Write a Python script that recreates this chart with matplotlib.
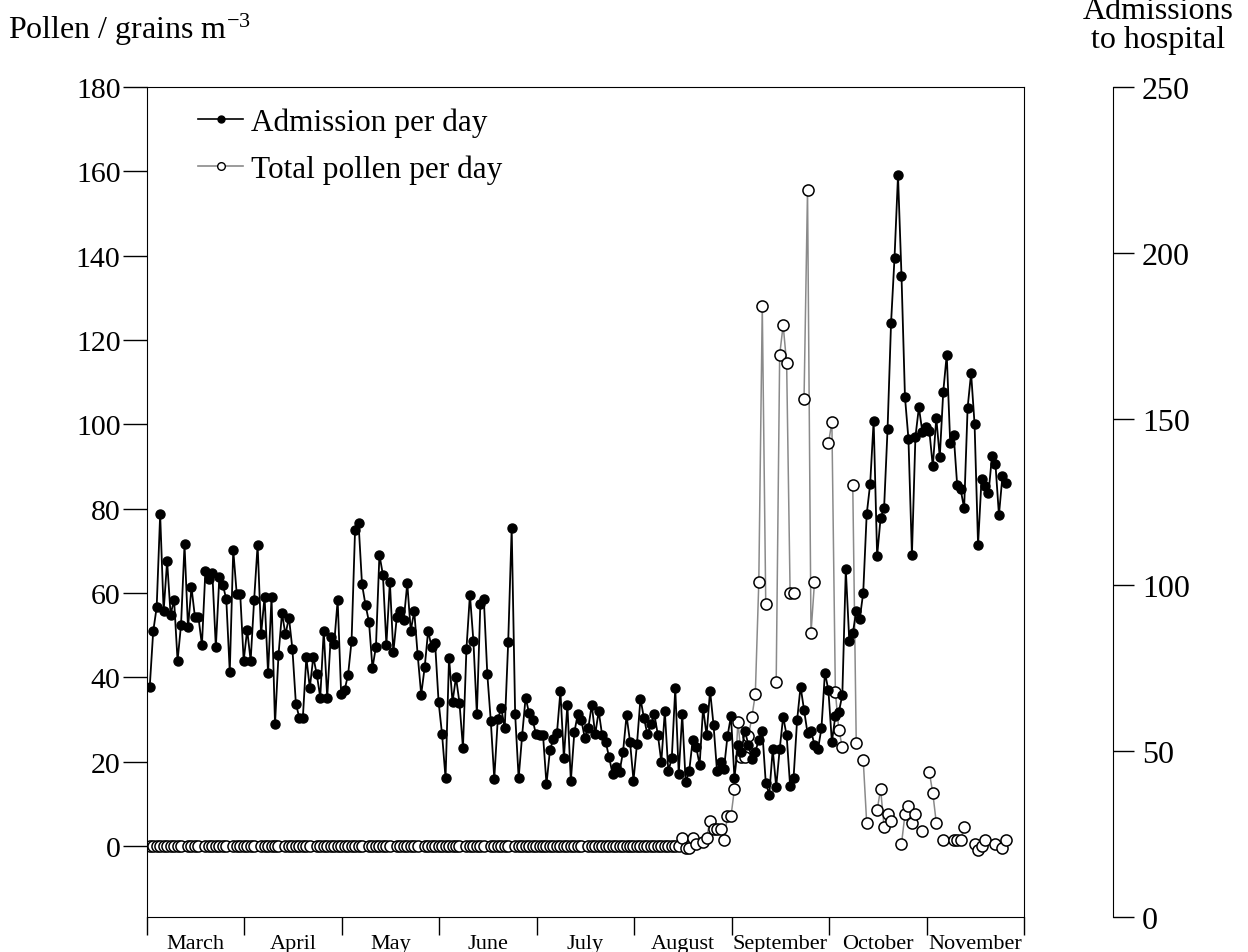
import numpy as np
import matplotlib.pyplot as plt
from matplotlib.lines import Line2D

plt.rcParams['font.family'] = 'Liberation Serif'
plt.rcParams['mathtext.fontset'] = 'custom'
plt.rcParams['mathtext.rm'] = 'Liberation Serif'
plt.rcParams['mathtext.it'] = 'Liberation Serif:italic'

months = ['March', 'April', 'May', 'June', 'July', 'August',
          'September', 'October', 'November']

# admissions to hospital per day
admit_mar = [69.2, 86.0, 93.3, 121.3, 92.1, 107.2, 91.1, 95.5, 77.2, 88.0, 112.2, 87.2, 99.3, 90.3, 90.3,
             81.9, 104.3, 101.8, 103.5, 81.2, 102.3, 100.1, 95.7, 73.8, 110.6, 97.3, 97.3, 77.2, 86.5]
admit_apr = [77.2, 95.5, 112.1, 85.1, 96.5, 73.4, 96.3, 58.0, 78.9, 91.5, 85.1, 90.2, 80.7, 64.2, 60.0,
             60.0, 78.2, 69.0, 78.3, 73.1, 66.1, 86.2, 66.1, 84.2, 82.3, 95.5]
admit_may = [67.2, 68.4, 73.0, 83.2, 116.6, 118.7, 100.2, 94.0, 88.9, 75.0, 81.4, 109.1, 103.1, 82.0, 101.0,
             79.7, 90.4, 92.3, 89.5, 100.5, 86.2, 92.1, 78.8, 67.0, 75.2, 86.2, 81.2, 82.4, 64.8]
admit_jun = [55.0, 41.8, 78.1, 64.8, 72.2, 64.5, 50.9, 80.7, 97.1, 83.2, 61.0, 94.3, 95.7, 73.1, 59.0,
             41.6, 59.5, 62.9, 56.9, 82.8, 117.2, 61.0, 41.8, 54.6, 66.1, 61.4, 59.4, 55.0]
admit_jul = [54.9, 54.9, 40.0, 50.3, 53.7, 55.3, 68.0, 47.8, 63.9, 40.9, 55.6, 61.2, 59.3, 54.0, 56.8,
             63.9, 55.0, 62.0, 54.7, 52.8, 48.1, 43.0, 45.1, 43.8, 49.8, 60.7, 52.8, 41.1]
admit_aug = [52.1, 65.8, 59.9, 55.0, 58.0, 61.0, 54.9, 46.7, 62.0, 43.9, 47.8, 68.9, 43.0, 61.0, 40.6,
             43.9, 53.2, 51.3, 45.8, 63.0, 54.7, 68.2, 57.8, 43.9, 46.8, 44.7, 54.4, 60.5]
admit_sep = [42.0, 51.9, 49.8, 56.1, 51.9, 47.7, 49.8, 53.3, 56.1, 40.5, 36.8, 50.5, 39.2, 50.5, 60.3,
             54.7, 39.5, 42.0, 59.2, 69.4, 62.4, 55.4, 56.1, 51.9, 50.5, 56.8, 73.6]
admit_oct = [68.3, 52.7, 60.6, 61.7, 66.9, 104.7, 83.2, 85.4, 92.1, 89.8, 97.6, 121.3, 130.4, 149.5, 108.7,
             120.2, 123.2, 147.0, 178.9, 198.6, 223.4, 193.2, 156.6, 144.0, 109.0, 144.6, 153.5, 146.1]
admit_nov = [147.5, 146.5, 135.7, 150.3, 138.5, 158.2, 169.4, 142.7, 145.2, 130.1, 128.8, 123.1, 153.4, 163.8,
             148.4, 112.1, 131.9, 129.9, 127.6, 138.8, 136.4, 121.1, 132.7, 130.7]

# total pollen per day (grains m-3), None where there is no count
N = None
pollen_mar = [0, 0, 0, 0, 0, 0, 0, 0, 0, 0, N, 0, 0, 0, 0, N, 0, 0, 0, 0, 0, 0, 0, N, 0, 0, 0, 0, 0]
pollen_apr = [0, 0, N, 0, 0, 0, 0, 0, 0, N, 0, 0, 0, 0, 0, 0, 0, 0, N, 0, 0, 0, 0, 0, 0, 0]
pollen_may = [0, 0, 0, 0, 0, 0, 0, N, 0, 0, 0, 0, 0, 0, 0, N, 0, 0, 0, 0, 0, 0, 0, N, 0, 0, 0, 0, 0]
pollen_jun = [0, 0, 0, 0, 0, 0, N, 0, 0, 0, 0, 0, 0, N, 0, 0, 0, 0, 0, 0, N, 0, 0, 0, 0, 0, 0, 0]
pollen_jul = [0, 0, 0, 0, 0, 0, 0, 0, 0, 0, 0, 0, 0, N, 0, 0, 0, 0, 0, 0, 0, 0, 0, 0, 0, 0, 0, 0]
pollen_aug = [0, 0, 0, 0, 0, 0, 0, 0, 0, 0, 0, 0, 0, 2, -0.5, -0.5, 2, 0.5, N, 1, 2, 6, 4, 4, 4, 1.5, 7, 7]
pollen_sep = [13.5, 29.5, 21, 21, 26, 30.5, 36, 62.5, 128, 57.5, N, N, 39, 116.5, 123.5, 114.5, 60, 60,
              N, N, 106, 155.5, 50.5, 62.5, N, N, N]
pollen_oct = [95.5, 100.5, 36.5, 27.5, 23.5, N, N, 85.5, 24.5, N, 20.5, 5.5, N, N, 8.5, 13.5, 4.5, 7.5, 6,
              N, N, 0.5, 7.5, 9.5, 5.5, 7.5, N, 3.5]
pollen_nov = [N, 17.5, 12.5, 5.5, N, 1.5, N, N, 1.5, 1.5, 1.5, 4.5, N, N, 0.5, -1, 0, 1.5, N, N, 0.5, N,
              -0.5, 1.5]

admit = np.array(admit_mar + admit_apr + admit_may + admit_jun + admit_jul + admit_aug
                 + admit_sep + admit_oct + admit_nov, dtype=float)
pollen = np.array([np.nan if v is None else v for v in
                   pollen_mar + pollen_apr + pollen_may + pollen_jun + pollen_jul + pollen_aug
                   + pollen_sep + pollen_oct + pollen_nov], dtype=float)
day = np.arange(len(admit))

fig = plt.figure(figsize=(12.48, 9.53), dpi=100)
ax = fig.add_axes([147 / 1248, 1 - 918 / 953, 877 / 1248, 830 / 953])
ax2 = ax.twinx()

ax.plot(day, pollen, color='#8a8a8a', lw=1.1, marker='o', ms=8, mfc='white', mec='black', mew=1.1)
ax2.plot(day, admit, color='black', lw=1.3, marker='o', ms=6.5, mfc='black', mec='black')

xmin, xmax = -0.78, 251.2
ax.set_xlim(xmin, xmax)
ax.set_ylim(-16.84, 180)
ax.set_yticks(np.arange(0, 181, 20))
ax.tick_params(axis='y', direction='out', length=17, width=1, pad=2, labelsize=21.5)

edges = np.linspace(xmin, xmax, len(months) + 1)
ax.set_xticks(edges)
ax.set_xticklabels([])
ax.set_xticks((edges[:-1] + edges[1:]) / 2, minor=True)
ax.set_xticklabels(months, minor=True, fontsize=16)
ax.tick_params(axis='x', which='major', direction='out', length=13, width=1)
ax.tick_params(axis='x', which='minor', length=0, pad=12)

ax2.set_ylim(0, 250)
ax2.set_yticks(np.arange(0, 251, 50))
ax2.spines['right'].set_position(('outward', 64))
ax2.tick_params(axis='y', direction='out', length=15, width=1, pad=6, labelsize=23)
ax2.spines['top'].set_visible(False)
ax2.spines['left'].set_visible(False)
ax2.spines['bottom'].set_visible(False)

handles = [Line2D([], [], color='black', lw=1.2, marker='o', ms=5, mfc='black', mec='black'),
           Line2D([], [], color='#8a8a8a', lw=1.2, marker='o', ms=5.5, mfc='white', mec='black')]
ax.legend(handles, ['Admission per day', 'Total pollen per day'], loc='upper left',
          bbox_to_anchor=(0.044, 0.99), frameon=False, fontsize=22.5, handlelength=1.45,
          handletextpad=0.25, labelspacing=0.55, borderaxespad=0)

fig.text(8 / 1248, 1 - 30 / 953, r'Pollen / grains m$^{-3}$', fontsize=23, ha='left', va='center')
fig.text(1158 / 1248, 1 - 26 / 953, 'Admissions\nto hospital', fontsize=23, ha='center', va='center',
         linespacing=1.0)

fig.savefig('out.png', dpi=100)
